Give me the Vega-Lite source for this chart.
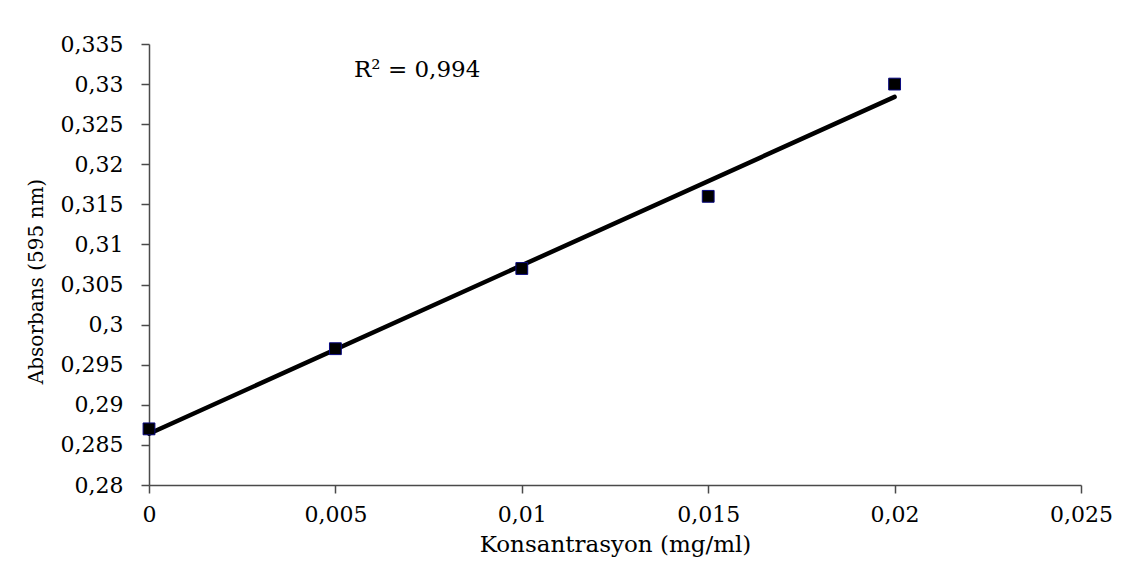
{
  "$schema": "https://vega.github.io/schema/vega-lite/v6.json",
  "width": 932,
  "height": 441,
  "autosize": {"type": "none"},
  "padding": {"left": 149, "top": 44, "right": 42, "bottom": 92},
  "background": "white",
  "config": {
    "view": {"stroke": null},
    "font": "DejaVu Serif",
    "axis": {
      "grid": false,
      "labelFlush": false,
      "labelOverlap": false,
      "domainColor": "#4a4a4a",
      "domainWidth": 1.5,
      "tickColor": "#4a4a4a",
      "tickWidth": 1.5,
      "tickSize": 8,
      "labelFont": "DejaVu Serif",
      "labelFontSize": 22,
      "labelColor": "#000000",
      "titleFont": "DejaVu Serif",
      "titleFontWeight": "normal",
      "titleColor": "#000000"
    }
  },
  "datasets": {
    "points": [
      {"konsantrasyon": 0, "absorbans": 0.287},
      {"konsantrasyon": 0.005, "absorbans": 0.297},
      {"konsantrasyon": 0.01, "absorbans": 0.307},
      {"konsantrasyon": 0.015, "absorbans": 0.316},
      {"konsantrasyon": 0.02, "absorbans": 0.330}
    ],
    "trend": [
      {"konsantrasyon": 0, "absorbans": 0.2864},
      {"konsantrasyon": 0.02, "absorbans": 0.3284}
    ],
    "label": [
      {"konsantrasyon": 0.0055, "absorbans": 0.3318, "text": "R² = 0,994"}
    ]
  },
  "layer": [
    {
      "data": {"name": "trend"},
      "mark": {"type": "line", "color": "#000000", "strokeWidth": 4.5, "strokeCap": "round", "clip": false},
      "encoding": {
        "x": {
          "field": "konsantrasyon", "type": "quantitative",
          "scale": {"domain": [0, 0.025], "nice": false, "zero": false},
          "axis": {
            "values": [0, 0.005, 0.01, 0.015, 0.02, 0.025],
            "labelExpr": "replace(format(datum.value, '~g'), '.', ',')",
            "labelPadding": 11,
            "title": "Konsantrasyon (mg/ml)",
            "titleFontSize": 23,
            "titleBaseline": "middle",
            "titleY": 59
          }
        },
        "y": {
          "field": "absorbans", "type": "quantitative",
          "scale": {"domain": [0.28, 0.335], "nice": false, "zero": false},
          "axis": {
            "values": [0.28, 0.285, 0.29, 0.295, 0.3, 0.305, 0.31, 0.315, 0.32, 0.325, 0.33, 0.335],
            "labelExpr": "replace(format(datum.value, '~g'), '.', ',')",
            "labelPadding": 18,
            "title": "Absorbans (595 nm)",
            "titleFontSize": 20,
            "titleAngle": -90,
            "titleAlign": "center",
            "titleBaseline": "middle",
            "titleX": -113,
            "titleY": 237
          }
        }
      }
    },
    {
      "data": {"name": "points"},
      "mark": {"type": "point", "shape": "square", "filled": true, "fill": "#000000", "stroke": "#0a0a80", "strokeWidth": 1, "size": 140, "opacity": 1, "clip": false},
      "encoding": {
        "x": {"field": "konsantrasyon", "type": "quantitative"},
        "y": {"field": "absorbans", "type": "quantitative"}
      }
    },
    {
      "data": {"name": "label"},
      "mark": {"type": "text", "align": "left", "baseline": "middle", "fontSize": 23, "font": "DejaVu Serif", "color": "#000000"},
      "encoding": {
        "x": {"field": "konsantrasyon", "type": "quantitative"},
        "y": {"field": "absorbans", "type": "quantitative"},
        "text": {"field": "text"}
      }
    }
  ]
}
